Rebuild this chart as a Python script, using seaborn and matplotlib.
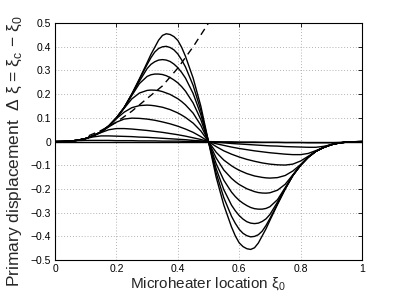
import numpy as np
import pandas as pd
import matplotlib
matplotlib.use("Agg")
import matplotlib.pyplot as plt
import seaborn as sns

# heater positions on the left half (the right half is the mirror image)
xi0 = [0.0, 0.025, 0.05, 0.075, 0.1, 0.125, 0.15, 0.175, 0.2, 0.225, 0.25,
       0.275, 0.3, 0.3125, 0.325, 0.3375, 0.35, 0.3625, 0.375, 0.3875, 0.4,
       0.4125, 0.425, 0.45, 0.475, 0.5]

# displacement curves, largest to smallest
c1 = [0, 0.0005, 0.002, 0.006, 0.013, 0.025, 0.041, 0.066, 0.100, 0.143, 0.200,
      0.265, 0.333, 0.368, 0.398, 0.428, 0.448, 0.455, 0.452, 0.443, 0.427,
      0.398, 0.360, 0.268, 0.150, 0]
c2 = [0, 0.0005, 0.002, 0.006, 0.013, 0.025, 0.041, 0.066, 0.100, 0.143, 0.200,
      0.263, 0.325, 0.354, 0.378, 0.393, 0.400, 0.402, 0.397, 0.387, 0.370,
      0.345, 0.315, 0.237, 0.132, 0]
c3 = [0, 0.0005, 0.002, 0.006, 0.013, 0.025, 0.041, 0.066, 0.100, 0.143, 0.199,
      0.255, 0.308, 0.326, 0.337, 0.344, 0.346, 0.344, 0.338, 0.327, 0.312,
      0.292, 0.268, 0.203, 0.114, 0]
c4 = [0, 0.0005, 0.002, 0.006, 0.013, 0.025, 0.041, 0.066, 0.100, 0.143, 0.194,
      0.245, 0.275, 0.282, 0.285, 0.285, 0.283, 0.278, 0.270, 0.260, 0.248,
      0.232, 0.213, 0.163, 0.093, 0]
c5 = [0, 0.0005, 0.002, 0.006, 0.013, 0.025, 0.041, 0.066, 0.100, 0.140, 0.180,
      0.205, 0.216, 0.2175, 0.217, 0.215, 0.211, 0.205, 0.199, 0.190, 0.181,
      0.169, 0.155, 0.120, 0.069, 0]
c6 = [0, 0.0005, 0.002, 0.006, 0.013, 0.025, 0.041, 0.066, 0.097, 0.124, 0.143,
      0.152, 0.154, 0.153, 0.151, 0.148, 0.145, 0.140, 0.135, 0.128, 0.121,
      0.112, 0.102, 0.078, 0.045, 0]
c7 = [0, 0.0005, 0.002, 0.006, 0.013, 0.025, 0.041, 0.062, 0.082, 0.095, 0.099,
      0.098, 0.095, 0.0925, 0.090, 0.0865, 0.083, 0.079, 0.075, 0.070, 0.065,
      0.059, 0.053, 0.039, 0.021, 0]
c8 = [0, 0.0005, 0.002, 0.006, 0.013, 0.025, 0.038, 0.050, 0.055, 0.055, 0.053,
      0.050, 0.047, 0.045, 0.043, 0.041, 0.039, 0.0365, 0.034, 0.0315, 0.029,
      0.026, 0.023, 0.016, 0.009, 0]
c9 = [0, 0.0005, 0.002, 0.006, 0.013, 0.020, 0.024, 0.024, 0.023, 0.022, 0.021,
      0.019, 0.018, 0.017, 0.016, 0.015, 0.014, 0.013, 0.012, 0.011, 0.010,
      0.009, 0.008, 0.005, 0.003, 0]
c10 = [0, 0.0005, 0.002, 0.004, 0.005, 0.005, 0.005, 0.005, 0.004, 0.004, 0.004,
       0.003, 0.003, 0.003, 0.003, 0.0025, 0.002, 0.002, 0.002, 0.002, 0.002,
       0.0015, 0.001, 0.001, 0.0005, 0]
c11 = [0.0] * len(xi0)
curves = [c1, c2, c3, c4, c5, c6, c7, c8, c9, c10, c11]

# dashed reference line
dash_x = [0.11, 0.15, 0.2, 0.25, 0.3, 0.35, 0.4, 0.45, 0.5]
dash_y = [0.025, 0.047, 0.082, 0.128, 0.182, 0.235, 0.31, 0.40, 0.5]

sns.set_style("white")
plt.rcParams["font.family"] = ["Liberation Sans", "DejaVu Sans"]
plt.rcParams["mathtext.fontset"] = "custom"
plt.rcParams["mathtext.rm"] = "Liberation Sans"

# build long table, mirroring each curve about xi0 = 0.5
x_half = np.array(xi0)
rows = []
for k, c in enumerate(curves):
    y_half = np.array(c)
    x_full = np.concatenate([x_half, 1 - x_half[::-1][1:]])
    y_full = np.concatenate([y_half, -y_half[::-1][1:]])
    for xv, yv in zip(x_full, y_full):
        rows.append({"curve": k, "xi0": xv, "dxi": yv})
df = pd.DataFrame(rows)

fig = plt.figure(figsize=(3.99, 3.0), dpi=100)
ax = fig.add_axes([0.138, 0.133, 0.769, 0.79])

sns.lineplot(data=df, x="xi0", y="dxi", units="curve", estimator=None,
             sort=False, color="black", linewidth=1.0, ax=ax)
ax.plot(dash_x, dash_y, color="black", linewidth=1.0, linestyle=(0, (5, 3.5)))

ax.set_xlim(0, 1)
ax.set_ylim(-0.5, 0.5)
xt = [0, 0.2, 0.4, 0.6, 0.8, 1]
yt = [-0.5, -0.4, -0.3, -0.2, -0.1, 0, 0.1, 0.2, 0.3, 0.4, 0.5]
ax.set_xticks(xt)
ax.set_xticklabels(["%g" % v for v in xt])
ax.set_yticks(yt)
ax.set_yticklabels([("%g" % v).replace("-", "\u2212") for v in yt])
ax.tick_params(direction="in", length=3, width=0.6, labelsize=7.5,
               top=True, right=True, pad=3, colors="black")
ax.grid(True, linestyle=(0, (1, 2.5)), color="#9a9a9a", linewidth=0.6)
for s in ax.spines.values():
    s.set_color("black")
    s.set_linewidth(0.8)

ax.set_xlabel("Microheater location ξ$_0$", fontsize=11, labelpad=1)
ax.set_ylabel("Primary displacement  Δ ξ = ξ$_\\mathrm{c}$ − ξ$_0$",
              fontsize=12.5)
ax.yaxis.set_label_coords(-0.10, 0.46)

fig.savefig("out.png", dpi=100, facecolor="white")
